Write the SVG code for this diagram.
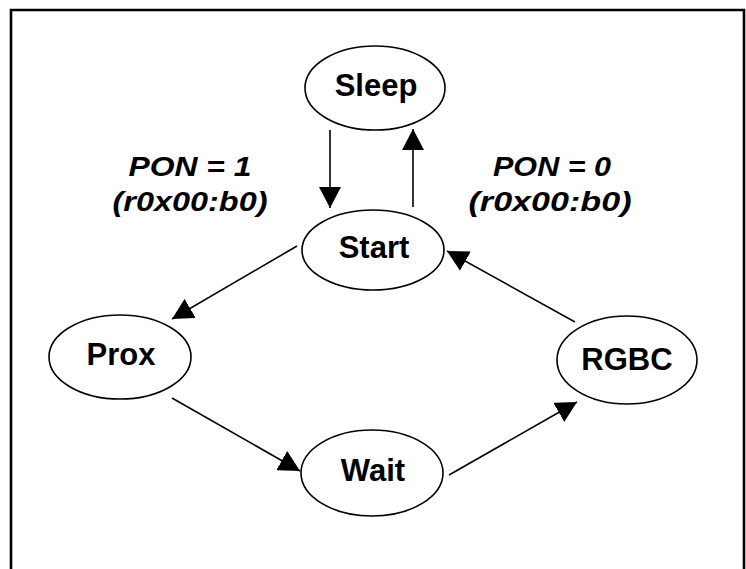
<svg xmlns="http://www.w3.org/2000/svg" width="746" height="569" viewBox="0 0 746 569">
  <style>
    .node ellipse { fill: #ffffff; stroke: #000000; stroke-width: 1.6; }
    .node text { font-family: "Liberation Sans", Arial, sans-serif; font-weight: bold; font-size: 31px; text-anchor: middle; fill: #000000; }
    .lbl { font-family: "Liberation Sans", Arial, sans-serif; font-weight: bold; font-style: italic; font-size: 28px; text-anchor: middle; fill: #000000; }
    .edge { stroke: #000000; stroke-width: 1.6; fill: none; marker-end: url(#arrow); }
  </style>
  <defs>
    <marker id="arrow" markerUnits="userSpaceOnUse" markerWidth="22" markerHeight="22" refX="21" refY="11" orient="auto">
      <path d="M0,0 L21,11 L0,22 z" fill="#000000"/>
    </marker>
  </defs>
  <rect width="746" height="569" fill="#ffffff"/>
  <path d="M11,575 V10 H744 V575" fill="none" stroke="#000000" stroke-width="2.6"/>

  <g id="connectors">
    <line class="edge" x1="330" y1="130" x2="330" y2="208"/>
    <line class="edge" x1="413" y1="207" x2="413" y2="129"/>
    <line class="edge" x1="297" y1="246" x2="172" y2="319"/>
    <line class="edge" x1="172" y1="398" x2="300" y2="471"/>
    <line class="edge" x1="449" y1="475" x2="577" y2="402"/>
    <line class="edge" x1="575" y1="322" x2="447" y2="251"/>
  </g>

  <g id="label-pon1">
    <text class="lbl" x="190" y="176" textLength="123" lengthAdjust="spacingAndGlyphs">PON = 1</text>
    <text class="lbl" x="190" y="211" textLength="155" lengthAdjust="spacingAndGlyphs">(r0x00:b0)</text>
  </g>
  <g id="label-pon0">
    <text class="lbl" x="552" y="176" textLength="118" lengthAdjust="spacingAndGlyphs">PON = 0</text>
    <text class="lbl" x="550" y="211" textLength="163" lengthAdjust="spacingAndGlyphs">(r0x00:b0)</text>
  </g>

  <g id="sleep" class="node">
    <ellipse cx="375" cy="88" rx="70" ry="42"/>
    <text x="376" y="96">Sleep</text>
  </g>
  <g id="start" class="node">
    <ellipse cx="373" cy="250" rx="71" ry="40"/>
    <text x="374" y="258">Start</text>
  </g>
  <g id="prox" class="node">
    <ellipse cx="120" cy="357" rx="71" ry="42"/>
    <text x="121" y="365">Prox</text>
  </g>
  <g id="rgbc" class="node">
    <ellipse cx="627" cy="360" rx="70" ry="44"/>
    <text x="627" y="370">RGBC</text>
  </g>
  <g id="wait" class="node">
    <ellipse cx="372" cy="473" rx="71" ry="43"/>
    <text x="373" y="481">Wait</text>
  </g>
</svg>
